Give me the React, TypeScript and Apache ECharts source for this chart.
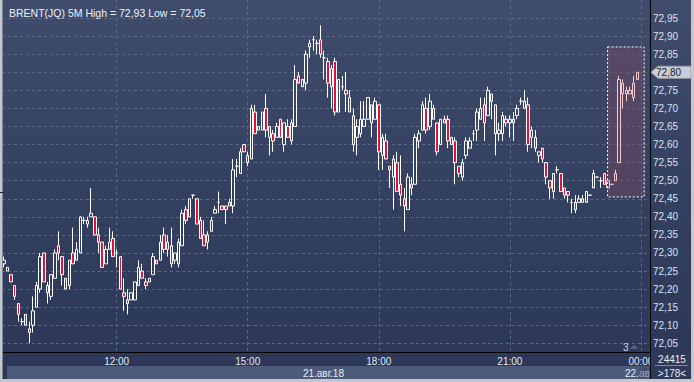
import React, { useEffect, useRef } from 'react';
import * as echarts from 'echarts';

// ---- data (5-minute candles, 21.08.18 09:25 .. 23:55) ----
const opens = [
  72.27, 72.25, 72.24, 72.21, 72.16, 72.11, 72.13, 72.09, 72.10, 72.15,
  72.20, 72.30, 72.21, 72.18, 72.23, 72.32, 72.29, 72.23, 72.21, 72.30,
  72.28, 72.30, 72.39, 72.38, 72.40, 72.40, 72.35, 72.33, 72.27, 72.31,
  72.34, 72.30, 72.29, 72.19, 72.17, 72.17, 72.17, 72.21, 72.25, 72.22,
  72.22, 72.24, 72.28, 72.28, 72.35, 72.33, 72.32, 72.28, 72.27, 72.32,
  72.42, 72.40, 72.46, 72.45, 72.39, 72.35, 72.33, 72.36, 72.41, 72.44,
  72.43, 72.43, 72.43, 72.43, 72.54, 72.52, 72.60, 72.57, 72.56, 72.69,
  72.64, 72.64, 72.70, 72.65, 72.63, 72.62, 72.67, 72.60, 72.65, 72.61,
  72.65, 72.79, 72.76, 72.77, 72.87, 72.89, 72.88, 72.89, 72.84, 72.83,
  72.76, 72.83, 72.69, 72.76, 72.75, 72.73, 72.68, 72.62, 72.63, 72.65,
  72.67, 72.71, 72.67, 72.71, 72.57, 72.61, 72.54, 72.51, 72.55, 72.49,
  72.45, 72.42, 72.49, 72.49, 72.61, 72.64, 72.70, 72.65, 72.70, 72.66,
  72.60, 72.67, 72.67, 72.62, 72.61, 72.54, 72.51, 72.57, 72.59, 72.63,
  72.64, 72.67, 72.71, 72.68, 72.74, 72.71, 72.63, 72.63, 72.67, 72.66,
  72.67, 72.68, 72.72, 72.70, 72.71, 72.62, 72.62, 72.57, 72.59, 72.55,
  72.50, 72.47, 72.53, 72.52, 72.48, 72.47, 72.44, 72.44, 72.44, 72.44,
  72.44, 72.46, 72.48, 72.51, 72.50, 72.52, 72.50, 72.49, 72.50, 72.55,
  72.77, 72.75, 72.75, 72.73, 72.78,
];
const closes = [
  72.28, 72.26, 72.22, 72.18, 72.13, 72.11, 72.10, 72.08, 72.14, 72.21,
  72.29, 72.22, 72.19, 72.24, 72.30, 72.30, 72.24, 72.20, 72.28, 72.27,
  72.31, 72.40, 72.39, 72.39, 72.41, 72.35, 72.33, 72.26, 72.31, 72.33,
  72.29, 72.30, 72.20, 72.18, 72.16, 72.19, 72.22, 72.26, 72.23, 72.21,
  72.23, 72.29, 72.27, 72.33, 72.31, 72.31, 72.27, 72.30, 72.33, 72.41,
  72.39, 72.45, 72.46, 72.38, 72.34, 72.32, 72.35, 72.39, 72.42, 72.44,
  72.42, 72.42, 72.44, 72.53, 72.54, 72.58, 72.58, 72.55, 72.70, 72.63,
  72.65, 72.69, 72.64, 72.62, 72.61, 72.65, 72.62, 72.66, 72.62, 72.66,
  72.78, 72.77, 72.78, 72.85, 72.88, 72.89, 72.88, 72.85, 72.84, 72.77,
  72.81, 72.69, 72.78, 72.76, 72.74, 72.69, 72.60, 72.65, 72.67, 72.67,
  72.73, 72.66, 72.72, 72.58, 72.62, 72.56, 72.53, 72.56, 72.47, 72.46,
  72.43, 72.51, 72.48, 72.62, 72.63, 72.71, 72.64, 72.72, 72.67, 72.58,
  72.67, 72.66, 72.61, 72.60, 72.55, 72.52, 72.55, 72.61, 72.61, 72.63,
  72.69, 72.70, 72.66, 72.75, 72.72, 72.63, 72.64, 72.68, 72.66, 72.67,
  72.66, 72.70, 72.72, 72.72, 72.60, 72.64, 72.59, 72.58, 72.56, 72.51,
  72.48, 72.52, 72.53, 72.47, 72.46, 72.46, 72.44, 72.42, 72.45, 72.45,
  72.47, 72.46, 72.52, 72.51, 72.50, 72.49, 72.48, 72.49, 72.52, 72.78,
  72.74, 72.74, 72.74, 72.77, 72.80,
];
const lows = [
  72.26, 72.25, 72.22, 72.17, 72.11, 72.10, 72.10, 72.05, 72.08, 72.15,
  72.19, 72.22, 72.16, 72.17, 72.23, 72.28, 72.21, 72.20, 72.20, 72.27,
  72.28, 72.30, 72.38, 72.37, 72.40, 72.35, 72.30, 72.26, 72.27, 72.31,
  72.29, 72.26, 72.20, 72.14, 72.13, 72.17, 72.17, 72.21, 72.23, 72.20,
  72.22, 72.24, 72.27, 72.28, 72.30, 72.29, 72.26, 72.27, 72.26, 72.32,
  72.38, 72.40, 72.45, 72.38, 72.34, 72.32, 72.31, 72.36, 72.41, 72.41,
  72.42, 72.38, 72.43, 72.41, 72.51, 72.52, 72.58, 72.54, 72.56, 72.63,
  72.64, 72.64, 72.62, 72.57, 72.58, 72.62, 72.62, 72.58, 72.62, 72.60,
  72.65, 72.77, 72.76, 72.75, 72.84, 72.86, 72.85, 72.84, 72.78, 72.73,
  72.70, 72.68, 72.69, 72.75, 72.69, 72.69, 72.58, 72.57, 72.62, 72.65,
  72.67, 72.62, 72.67, 72.53, 72.53, 72.56, 72.48, 72.42, 72.47, 72.43,
  72.36, 72.42, 72.46, 72.49, 72.59, 72.64, 72.63, 72.64, 72.67, 72.57,
  72.60, 72.66, 72.59, 72.60, 72.49, 72.51, 72.50, 72.56, 72.59, 72.61,
  72.61, 72.67, 72.61, 72.68, 72.67, 72.57, 72.61, 72.61, 72.65, 72.62,
  72.61, 72.67, 72.71, 72.70, 72.58, 72.59, 72.58, 72.55, 72.55, 72.49,
  72.45, 72.45, 72.52, 72.47, 72.45, 72.44, 72.41, 72.41, 72.44, 72.44,
  72.44, 72.46, 72.48, 72.51, 72.48, 72.49, 72.48, 72.49, 72.50, 72.55,
  72.70, 72.72, 72.74, 72.72, 72.78,
];
const highs = [
  72.29, 72.26, 72.24, 72.21, 72.16, 72.12, 72.13, 72.11, 72.18, 72.22,
  72.30, 72.30, 72.22, 72.24, 72.31, 72.36, 72.29, 72.23, 72.28, 72.37,
  72.33, 72.40, 72.40, 72.40, 72.48, 72.40, 72.37, 72.33, 72.32, 72.37,
  72.36, 72.31, 72.29, 72.23, 72.20, 72.19, 72.22, 72.28, 72.27, 72.23,
  72.23, 72.30, 72.28, 72.35, 72.37, 72.35, 72.37, 72.30, 72.34, 72.42,
  72.43, 72.45, 72.46, 72.45, 72.40, 72.39, 72.36, 72.40, 72.43, 72.47,
  72.43, 72.43, 72.45, 72.56, 72.56, 72.59, 72.60, 72.58, 72.71, 72.71,
  72.65, 72.69, 72.74, 72.65, 72.64, 72.66, 72.67, 72.66, 72.67, 72.67,
  72.82, 72.80, 72.78, 72.86, 72.89, 72.90, 72.89, 72.93, 72.86, 72.84,
  72.82, 72.84, 72.78, 72.79, 72.80, 72.75, 72.70, 72.67, 72.72, 72.72,
  72.73, 72.71, 72.73, 72.71, 72.63, 72.63, 72.54, 72.57, 72.58, 72.57,
  72.48, 72.52, 72.51, 72.63, 72.64, 72.72, 72.73, 72.74, 72.71, 72.66,
  72.67, 72.68, 72.68, 72.62, 72.62, 72.54, 72.56, 72.62, 72.62, 72.64,
  72.70, 72.73, 72.73, 72.76, 72.74, 72.71, 72.66, 72.69, 72.68, 72.68,
  72.69, 72.71, 72.73, 72.75, 72.73, 72.65, 72.64, 72.58, 72.59, 72.55,
  72.50, 72.52, 72.54, 72.52, 72.48, 72.47, 72.45, 72.46, 72.46, 72.46,
  72.47, 72.46, 72.53, 72.51, 72.51, 72.52, 72.50, 72.49, 72.53, 72.79,
  72.78, 72.76, 72.76, 72.79, 72.80,
];

const title = 'BRENT(JQ) 5M High = 72,93 Low = 72,05';
const timeTicks = ['12:00', '15:00', '18:00', '21:00', '00:00'];
const dateLabels = ['21.авг.18', '22.ав'];
const footerTop = '24415';
const footerBottom = '>178<';
const pageMarker = '3';

// annotation (selected range) in data terms
const highlightFrom = 166;
const boxFromIndex = 165.85;
const boxToIndex = 175.9;
const boxLow = 72.455;
const boxHigh = 72.87;

// x axis slots: 5 minute steps from 09:25
const SLOT_COUNT = 178;
const START_MIN = 9 * 60 + 25;
const categories: string[] = [];
for (let i = 0; i < SLOT_COUNT; i++) {
  const m = (START_MIN + i * 5) % (24 * 60);
  categories.push(
    String(Math.floor(m / 60)).padStart(2, '0') + ':' + String(m % 60).padStart(2, '0')
  );
}

const fmt = (v: number) => v.toFixed(2).replace('.', ',');
const FONT = "'Liberation Sans', Arial, sans-serif";

export default function App() {
  const ref = useRef<HTMLDivElement | null>(null);

  useEffect(() => {
    if (!ref.current) return;
    const chart = echarts.init(ref.current, null, { renderer: 'svg' });
    const lastClose = closes[closes.length - 1];

    const seriesData = opens.map((o, i) => {
      const v = [o, closes[i], lows[i], highs[i]];
      if (i >= highlightFrom) {
        return {
          value: v,
          itemStyle: {
            color: 'rgba(0,0,0,0)',
            color0: '#d8284e',
            borderColor: '#f6c9cf',
            borderColor0: '#f6c9cf',
          },
        };
      }
      return v;
    });

    chart.setOption({
      animation: false,
      backgroundColor: 'transparent',
      title: {
        text: title,
        left: 4,
        top: 2,
        textStyle: { color: '#eef2f8', fontSize: 10.5, fontWeight: 'normal', fontFamily: FONT },
      },
      grid: { left: 2, top: 0, width: 648, height: 352, containLabel: false, outerBoundsMode: 'none' },
      xAxis: {
        type: 'category',
        data: categories,
        boundaryGap: true,
        axisLine: { show: true, lineStyle: { color: '#000000', width: 1 } },
        axisTick: { show: false },
        axisLabel: {
          interval: (_i: number, val: string) => timeTicks.includes(val),
          color: '#e2e8f2',
          fontSize: 10,
          fontFamily: FONT,
          margin: 4,
        },
        splitLine: {
          show: true,
          alignWithLabel: true,
          interval: (_i: number, val: string) => timeTicks.includes(val),
          lineStyle: { color: '#5b6786', type: [3, 3], width: 1 },
        },
      },
      yAxis: {
        type: 'value',
        position: 'right',
        min: 72.026,
        max: 73.0,
        splitNumber: 19,
        axisLine: { show: true, lineStyle: { color: '#000000', width: 1 } },
        axisTick: { show: false },
        axisLabel: {
          color: '#d6e2f4',
          fontSize: 10,
          fontFamily: FONT,
          margin: 3,
          formatter: (v: number) =>
            v < 72.04 || v > 72.96 || Math.abs(v - lastClose) < 0.001 ? '' : fmt(v),
        },
        splitLine: {
          show: true,
          showMinLine: false,
          showMaxLine: false,
          lineStyle: { color: '#5b6786', type: [3, 3], width: 1 },
        },
      },
      series: [
        {
          type: 'candlestick',
          data: seriesData,
          barWidth: 3,
          itemStyle: {
            color: 'rgba(0,0,0,0)',
            color0: '#dc143c',
            borderColor: '#ffffff',
            borderColor0: '#ffffff',
            borderWidth: 1,
          },
        },
      ],
    });

    const px = (i: number, p: number) =>
      chart.convertToPixel({ gridIndex: 0 }, [i, p]) as number[];
    const slot = px(1, 72.5)[0] - px(0, 72.5)[0];
    const xAt = (fi: number) => px(0, 72.5)[0] + fi * slot;
    const bx0 = xAt(boxFromIndex);
    const bx1 = xAt(boxToIndex);
    const by0 = px(0, boxHigh)[1];
    const by1 = px(0, boxLow)[1];
    const ty = px(0, lastClose)[1];

    chart.setOption({
      graphic: [
        {
          type: 'rect',
          z: 1,
          shape: { x: bx0, y: by0, width: bx1 - bx0, height: by1 - by0 },
          style: { fill: 'rgba(124,74,100,0.42)', stroke: '#ffffff', lineWidth: 1, lineDash: [2, 2] },
        },
        // price tag
        {
          type: 'polygon',
          z: 50,
          shape: {
            points: [
              [651, ty],
              [658, ty - 6],
              [691, ty - 6],
              [691, ty + 6],
              [658, ty + 6],
            ],
          },
          style: { fill: '#c9cdd5', stroke: '#9aa0ae', lineWidth: 1 },
        },
        {
          type: 'text',
          z: 51,
          x: 656,
          y: ty,
          style: {
            text: fmt(lastClose),
            fill: '#141c30',
            font: `10px ${FONT}`,
            textVerticalAlign: 'middle',
          },
        },
        // marker "3"
        {
          type: 'text',
          z: 50,
          x: 623,
          y: 347,
          style: { text: pageMarker, fill: '#d4dcea', font: `10px ${FONT}`, textVerticalAlign: 'middle' },
        },
        {
          type: 'polygon',
          z: 50,
          shape: { points: [[630, 349], [634, 344.5], [638, 349]] },
          style: { fill: '#56617c' },
        },
        // date strip
        {
          type: 'rect',
          z: 60,
          shape: { x: 7, y: 366, width: 643, height: 13 },
          style: { fill: '#4c5b79' },
        },
        {
          type: 'text',
          z: 61,
          x: 344,
          y: 373,
          style: {
            text: dateLabels[0],
            fill: '#e6ecf6',
            font: `10px ${FONT}`,
            textAlign: 'right',
            textVerticalAlign: 'middle',
          },
        },
        {
          type: 'text',
          z: 61,
          x: 625,
          y: 373,
          style: { text: dateLabels[1], fill: '#e6ecf6', font: `10px ${FONT}`, textVerticalAlign: 'middle' },
        },
        {
          type: 'rect',
          z: 62,
          shape: { x: 639, y: 366, width: 11, height: 13 },
          style: { fill: '#3a4766', opacity: 0.45 },
        },
        // bottom-right box
        {
          type: 'rect',
          z: 70,
          shape: { x: 650, y: 352, width: 41, height: 27 },
          style: { fill: '#2f3a59' },
        },
        {
          type: 'line',
          z: 71,
          shape: { x1: 650.5, y1: 0, x2: 650.5, y2: 380 },
          style: { stroke: '#000000', lineWidth: 1 },
        },
        {
          type: 'line',
          z: 71,
          shape: { x1: 655, y1: 365.5, x2: 688, y2: 365.5 },
          style: { stroke: '#7d8aa2', lineWidth: 1 },
        },
        {
          type: 'text',
          z: 71,
          x: 672,
          y: 359,
          style: {
            text: footerTop,
            fill: '#e6ecf6',
            font: `10px ${FONT}`,
            textAlign: 'center',
            textVerticalAlign: 'middle',
          },
        },
        {
          type: 'text',
          z: 71,
          x: 672,
          y: 373,
          style: {
            text: footerBottom,
            fill: '#e6ecf6',
            font: `10px ${FONT}`,
            textAlign: 'center',
            textVerticalAlign: 'middle',
          },
        },
        // outer frame
        { type: 'rect', z: 80, shape: { x: 0, y: 0, width: 2, height: 382 }, style: { fill: '#c3c7cf' } },
        { type: 'rect', z: 80, shape: { x: 2, y: 0, width: 1, height: 380 }, style: { fill: '#7c8496' } },
        { type: 'rect', z: 80, shape: { x: 0, y: 379, width: 694, height: 3 }, style: { fill: '#c3c7cf' } },
        { type: 'rect', z: 80, shape: { x: 691, y: 0, width: 3, height: 382 }, style: { fill: '#c3c7cf' } },
        {
          type: 'line',
          z: 81,
          shape: { x1: 0, y1: 192.5, x2: 4, y2: 192.5 },
          style: { stroke: '#1c2336', lineWidth: 1 },
        },
      ],
    });

    return () => chart.dispose();
  }, []);

  return (
    <div
      ref={ref}
      style={{
        position: 'absolute',
        left: 0,
        top: 0,
        width: 694,
        height: 382,
        background: 'linear-gradient(to bottom, #3f4c6c 0%, #34405f 50%, #2c3757 100%)',
      }}
    />
  );
}
